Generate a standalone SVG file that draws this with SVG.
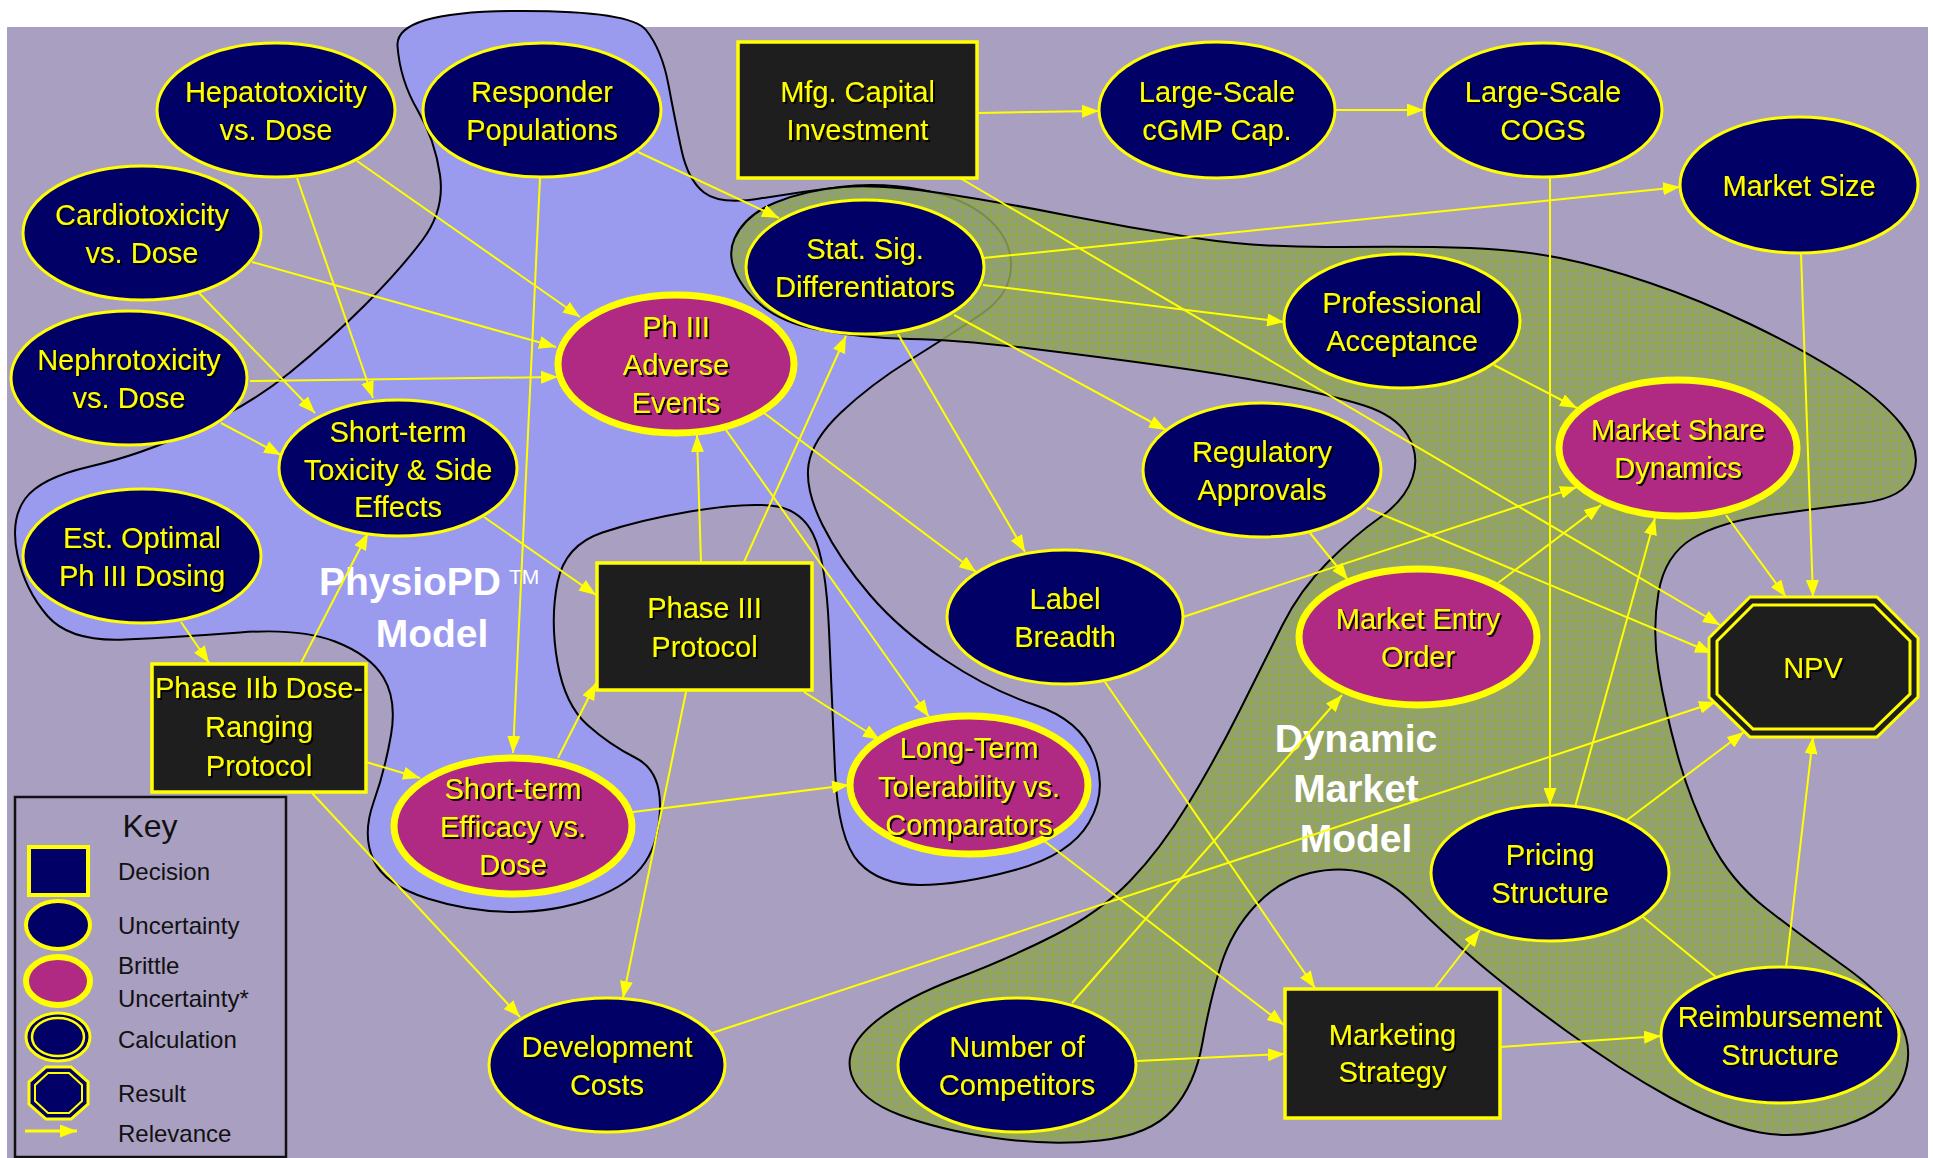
<svg xmlns="http://www.w3.org/2000/svg" width="1933" height="1158" viewBox="0 0 1933 1158">
<style>
.u{fill:#000066;stroke:#FFFF00;stroke-width:3}
.b{fill:#B02A84;stroke:#FFFF00;stroke-width:7}
.d{fill:#1E1E1E;stroke:#FFFF00;stroke-width:3.5}
.t{font-family:"Liberation Sans",Arial,sans-serif;font-size:29px;fill:#FFFF00;text-anchor:middle;filter:url(#sh)}
.c line{stroke:#FFFF00;stroke-width:2;marker-end:url(#ar)}
.k{font-family:"Liberation Sans",Arial,sans-serif;font-size:24px;fill:#111111}
.big{font-family:"Liberation Sans",Arial,sans-serif;font-size:39px;font-weight:bold;fill:#FFFFFF;text-anchor:middle}
</style>
<defs>
<filter id="sh" x="-10%" y="-20%" width="125%" height="150%">
<feDropShadow dx="2" dy="2" stdDeviation="0.6" flood-color="#000000" flood-opacity="0.9"/>
</filter>
<marker id="ar" markerUnits="userSpaceOnUse" markerWidth="17" markerHeight="13" refX="17" refY="6.5" orient="auto">
<path d="M0,0 L17,6.5 L0,13 Z" fill="#FFFF00"/>
</marker>
<pattern id="grid" patternUnits="userSpaceOnUse" width="9" height="9">
<rect width="9" height="9" fill="#8FA064"/>
<path d="M0,0.5 H9 M0.5,0 V9" stroke="#8DB020" stroke-width="1"/>
</pattern>
</defs>

<rect x="7" y="27" width="1921" height="1131" fill="#A99FC1"/>

<g id="physiopd-region">
<path d="M397.5,46 Q395,12 512.5,11 Q630,10 646,30 Q662,50 668.5,85 Q675,120 681.5,150 Q688,180 704,192.5 Q720,205 760,198.5 Q800,192 840,187 Q880,182 922.5,190 Q965,198 988.5,219 Q1012,240 1011,267.5 Q1010,295 980,315 Q950,335 910,360 Q870,385 841,412.5 Q812,440 808.5,465 Q805,490 822.5,525 Q840,560 870,595 Q900,630 945,660 Q990,690 1035,705 Q1080,720 1094,755 Q1108,790 1089,822.5 Q1070,855 1015,870 Q960,885 920,885 Q880,885 859,862.5 Q838,840 835,770 Q832,700 829,630 Q826,560 813,534 Q800,508 770,505.5 Q740,503 690,511.5 Q640,520 602.5,532.5 Q565,545 557.5,582.5 Q550,620 557.5,662.5 Q565,705 587.5,725 Q610,745 635,757.5 Q660,770 660,805 Q660,840 645,862.5 Q630,885 592.5,898.5 Q555,912 512.5,912 Q470,912 427.5,898.5 Q385,885 373.5,860 Q362,835 373.5,802.5 Q385,770 391,735 Q397,700 383.5,677.5 Q370,655 335,641.5 Q300,628 240,632.5 Q180,637 125,639.5 Q70,642 47.5,616 Q25,590 17.5,555 Q10,520 25,499 Q40,478 90,466.5 Q140,455 195,430 Q250,405 290,372.5 Q330,340 365,305 Q400,270 422.5,240 Q445,210 440,175 Q435,140 417.5,110 Q400,80 397.5,46 Z" fill="#9A9AEF" stroke="#000000" stroke-width="2"/>
<text class="big" x="410" y="595">PhysioPD</text>
<text x="509" y="584" font-family="Liberation Sans,Arial,sans-serif" font-size="21" fill="#FFFFFF">TM</text>
<text class="big" x="432" y="647">Model</text>
</g>

<g id="dynamic-market-region">
<path d="M747,291 Q724,262 734.5,238.5 Q745,215 775.5,202.5 Q806,190 843,187 Q880,184 940,193 Q1000,202 1065,215 Q1130,228 1195,238 Q1260,248 1340,247 Q1420,246 1470,248 Q1520,250 1560,258 Q1600,266 1650,283 Q1700,300 1750,324 Q1800,348 1840,373 Q1880,398 1901,424 Q1922,450 1913.5,474 Q1905,498 1862.5,503 Q1820,508 1770,515 Q1720,522 1692.5,538.5 Q1665,555 1658.5,592.5 Q1652,630 1658.5,670 Q1665,710 1677.5,755 Q1690,800 1710,840 Q1730,880 1765,907.5 Q1800,935 1842.5,965 Q1885,995 1900,1022.5 Q1915,1050 1902.5,1080 Q1890,1110 1845,1125 Q1800,1140 1760,1132.5 Q1720,1125 1670,1097.5 Q1620,1070 1565,1030 Q1510,990 1475,960 Q1440,930 1415,905 Q1390,880 1365,873 Q1340,866 1310,873 Q1280,880 1256,905 Q1232,930 1221,965 Q1210,1000 1202.5,1042.5 Q1195,1085 1172.5,1110 Q1150,1135 1100,1140.5 Q1050,1146 995,1138 Q940,1130 900,1115 Q860,1100 851.5,1075 Q843,1050 871.5,1025 Q900,1000 955,979 Q1010,958 1055,935 Q1100,912 1130,881 Q1160,850 1187.5,805 Q1215,760 1240,710 Q1265,660 1282.5,625 Q1300,590 1327.5,562.5 Q1355,535 1380,517.5 Q1405,500 1412.5,477.5 Q1420,455 1407.5,435 Q1395,415 1362.5,405 Q1330,395 1280,385 Q1230,375 1165,366 Q1100,357 1030,348.5 Q960,340 910,339 Q860,338 815,329 Q770,320 747,291 Z" fill="url(#grid)" fill-opacity="0.85" stroke="#000000" stroke-width="2"/>
<text class="big" x="1356" y="752">Dynamic</text>
<text class="big" x="1356" y="802">Market</text>
<text class="big" x="1356" y="852">Model</text>
</g>

<g id="connectors" class="c">
<line x1="357" y1="161" x2="580" y2="317"/>
<line x1="297" y1="178" x2="373" y2="398"/>
<line x1="540" y1="178" x2="513" y2="753"/>
<line x1="638" y1="152" x2="779" y2="218"/>
<line x1="252" y1="262" x2="556" y2="347"/>
<line x1="199" y1="293" x2="315" y2="413"/>
<line x1="250" y1="381" x2="558" y2="377"/>
<line x1="221" y1="423" x2="281" y2="455"/>
<line x1="181" y1="622" x2="209" y2="663"/>
<line x1="301" y1="663" x2="368" y2="533"/>
<line x1="366" y1="762" x2="420" y2="778"/>
<line x1="312" y1="793" x2="520" y2="1017"/>
<line x1="484" y1="517" x2="596" y2="595"/>
<line x1="558" y1="758" x2="596" y2="683"/>
<line x1="633" y1="812" x2="849" y2="785"/>
<line x1="701" y1="563" x2="697" y2="435"/>
<line x1="744" y1="562" x2="846" y2="336"/>
<line x1="804" y1="692" x2="880" y2="740"/>
<line x1="686" y1="692" x2="623" y2="998"/>
<line x1="764" y1="413" x2="976" y2="572"/>
<line x1="726" y1="430" x2="929" y2="717"/>
<line x1="898" y1="334" x2="1025" y2="552"/>
<line x1="954" y1="315" x2="1166" y2="430"/>
<line x1="983" y1="285" x2="1284" y2="322"/>
<line x1="983" y1="258" x2="1680" y2="187"/>
<line x1="977" y1="113" x2="1099" y2="111"/>
<line x1="1336" y1="110" x2="1424" y2="110"/>
<line x1="960" y1="178" x2="1720" y2="625"/>
<line x1="1550" y1="178" x2="1550" y2="805"/>
<line x1="1801" y1="253" x2="1813" y2="597"/>
<line x1="1494" y1="365" x2="1577" y2="408"/>
<line x1="1310" y1="533" x2="1348" y2="580"/>
<line x1="1367" y1="508" x2="1712" y2="653"/>
<line x1="1183" y1="617" x2="1577" y2="487"/>
<line x1="1105" y1="682" x2="1315" y2="988"/>
<line x1="1498" y1="583" x2="1601" y2="505"/>
<line x1="1726" y1="515" x2="1786" y2="597"/>
<line x1="1575" y1="807" x2="1655" y2="518"/>
<line x1="1627" y1="820" x2="1744" y2="732"/>
<line x1="1786" y1="968" x2="1813" y2="737"/>
<line x1="1643" y1="917" x2="1716" y2="977" style="marker-end:none"/>
<line x1="1435" y1="988" x2="1480" y2="930"/>
<line x1="1500" y1="1047" x2="1661" y2="1036"/>
<line x1="1137" y1="1061" x2="1285" y2="1054"/>
<line x1="1072" y1="1003" x2="1342" y2="695"/>
<line x1="712" y1="1033" x2="1716" y2="702"/>
<line x1="1043" y1="840" x2="1284" y2="1025"/>
</g>

<g id="hepatotoxicity"><ellipse class="u" cx="276" cy="110" rx="119" ry="67"/><text class="t" x="276" y="102">Hepatotoxicity</text><text class="t" x="276" y="140">vs. Dose</text></g>
<g id="responder"><ellipse class="u" cx="542" cy="110" rx="119" ry="67"/><text class="t" x="542" y="102">Responder</text><text class="t" x="542" y="140">Populations</text></g>
<g id="cardiotoxicity"><ellipse class="u" cx="142" cy="233" rx="119" ry="67"/><text class="t" x="142" y="225">Cardiotoxicity</text><text class="t" x="142" y="263">vs. Dose</text></g>
<g id="nephrotoxicity"><ellipse class="u" cx="129" cy="378" rx="118" ry="67"/><text class="t" x="129" y="370">Nephrotoxicity</text><text class="t" x="129" y="408">vs. Dose</text></g>
<g id="est-optimal"><ellipse class="u" cx="142" cy="556" rx="119" ry="67"/><text class="t" x="142" y="548">Est. Optimal</text><text class="t" x="142" y="586">Ph III Dosing</text></g>
<g id="short-term-toxicity"><ellipse class="u" cx="398" cy="468" rx="119" ry="68"/><text class="t" x="398" y="442">Short-term</text><text class="t" x="398" y="480">Toxicity &amp; Side</text><text class="t" x="398" y="517">Effects</text></g>
<g id="ph3-adverse"><ellipse class="b" cx="676" cy="364" rx="118" ry="69"/><text class="t" x="676" y="337">Ph III</text><text class="t" x="676" y="375">Adverse</text><text class="t" x="676" y="413">Events</text></g>
<g id="phase2b"><rect class="d" x="152" y="664" width="214" height="128"/><text class="t" x="259" y="698">Phase IIb Dose-</text><text class="t" x="259" y="737">Ranging</text><text class="t" x="259" y="776">Protocol</text></g>
<g id="short-term-efficacy"><ellipse class="b" cx="513" cy="826" rx="119" ry="68"/><text class="t" x="513" y="799">Short-term</text><text class="t" x="513" y="837">Efficacy vs.</text><text class="t" x="513" y="875">Dose</text></g>
<g id="phase3-protocol"><rect class="d" x="597" y="563" width="215" height="127"/><text class="t" x="704.5" y="618">Phase III</text><text class="t" x="704.5" y="657">Protocol</text></g>
<g id="long-term"><ellipse class="b" cx="969" cy="785" rx="119" ry="69"/><text class="t" x="969" y="758">Long-Term</text><text class="t" x="969" y="797">Tolerability vs.</text><text class="t" x="969" y="835">Comparators</text></g>
<g id="mfg-capital"><rect class="d" x="738" y="42" width="239" height="136"/><text class="t" x="857.5" y="102">Mfg. Capital</text><text class="t" x="857.5" y="140">Investment</text></g>
<g id="stat-sig"><ellipse class="u" cx="865" cy="267" rx="119" ry="67"/><text class="t" x="865" y="259">Stat. Sig.</text><text class="t" x="865" y="297">Differentiators</text></g>
<g id="cgmp"><ellipse class="u" cx="1217" cy="110" rx="118" ry="68"/><text class="t" x="1217" y="102">Large-Scale</text><text class="t" x="1217" y="140">cGMP Cap.</text></g>
<g id="cogs"><ellipse class="u" cx="1543" cy="110" rx="119" ry="67"/><text class="t" x="1543" y="102">Large-Scale</text><text class="t" x="1543" y="140">COGS</text></g>
<g id="market-size"><ellipse class="u" cx="1799" cy="185" rx="119" ry="68"/><text class="t" x="1799" y="196">Market Size</text></g>
<g id="professional"><ellipse class="u" cx="1402" cy="321" rx="118" ry="67"/><text class="t" x="1402" y="313">Professional</text><text class="t" x="1402" y="351">Acceptance</text></g>
<g id="regulatory"><ellipse class="u" cx="1262" cy="470" rx="119" ry="67"/><text class="t" x="1262" y="462">Regulatory</text><text class="t" x="1262" y="500">Approvals</text></g>
<g id="market-share"><ellipse class="b" cx="1678" cy="448" rx="119" ry="68"/><text class="t" x="1678" y="440">Market Share</text><text class="t" x="1678" y="478">Dynamics</text></g>
<g id="label-breadth"><ellipse class="u" cx="1065" cy="617" rx="118" ry="67"/><text class="t" x="1065" y="609">Label</text><text class="t" x="1065" y="647">Breadth</text></g>
<g id="market-entry"><ellipse class="b" cx="1418" cy="637" rx="119" ry="68"/><text class="t" x="1418" y="629">Market Entry</text><text class="t" x="1418" y="667">Order</text></g>
<g id="npv"><polygon points="1750,597 1877,597 1918,638 1918,697 1877,737 1750,737 1709,697 1709,638" fill="#1E1E1E" stroke="#FFFF00" stroke-width="3"/><polygon points="1753,605 1874,605 1910,641 1910,694 1874,729 1753,729 1717,694 1717,641" fill="none" stroke="#FFFF00" stroke-width="3"/><text class="t" x="1813" y="678">NPV</text></g>
<g id="pricing"><ellipse class="u" cx="1550" cy="873" rx="119" ry="68"/><text class="t" x="1550" y="865">Pricing</text><text class="t" x="1550" y="903">Structure</text></g>
<g id="reimbursement"><ellipse class="u" cx="1780" cy="1035" rx="119" ry="68"/><text class="t" x="1780" y="1027">Reimbursement</text><text class="t" x="1780" y="1065">Structure</text></g>
<g id="marketing"><rect class="d" x="1285" y="989" width="215" height="129"/><text class="t" x="1392.5" y="1045">Marketing</text><text class="t" x="1392.5" y="1082">Strategy</text></g>
<g id="competitors"><ellipse class="u" cx="1017" cy="1065" rx="119" ry="67"/><text class="t" x="1017" y="1057">Number of</text><text class="t" x="1017" y="1095">Competitors</text></g>
<g id="development"><ellipse class="u" cx="607" cy="1065" rx="118" ry="67"/><text class="t" x="607" y="1057">Development</text><text class="t" x="607" y="1095">Costs</text></g>

<g id="key">
<rect x="15" y="797" width="271" height="360" fill="none" stroke="#111111" stroke-width="2.5"/>
<text x="150" y="837" font-family="Liberation Sans,Arial,sans-serif" font-size="32" fill="#111111" text-anchor="middle">Key</text>
<rect x="29" y="847" width="59" height="48" fill="#000066" stroke="#FFFF00" stroke-width="4"/>
<text class="k" x="118" y="880">Decision</text>
<ellipse cx="58" cy="925" rx="32" ry="24" fill="#000066" stroke="#FFFF00" stroke-width="4"/>
<text class="k" x="118" y="934">Uncertainty</text>
<ellipse cx="58" cy="981" rx="32" ry="24" fill="#B02A84" stroke="#FFFF00" stroke-width="6"/>
<text class="k" x="118" y="974">Brittle</text>
<text class="k" x="118" y="1007">Uncertainty*</text>
<ellipse cx="58" cy="1037" rx="32" ry="24" fill="#000066" stroke="#FFFF00" stroke-width="3"/>
<ellipse cx="58" cy="1037" rx="26" ry="19" fill="none" stroke="#FFFF00" stroke-width="2.5"/>
<text class="k" x="118" y="1048">Calculation</text>
<polygon points="46,1067 71,1067 88,1082 88,1104 71,1119 46,1119 29,1104 29,1082" fill="#000066" stroke="#FFFF00" stroke-width="3"/>
<polygon points="48,1073 69,1073 82,1085 82,1101 69,1113 48,1113 35,1101 35,1085" fill="none" stroke="#FFFF00" stroke-width="2"/>
<text class="k" x="118" y="1102">Result</text>
<line x1="25" y1="1131" x2="77" y2="1131" stroke="#FFFF00" stroke-width="3" marker-end="url(#ar)"/>
<text class="k" x="118" y="1142">Relevance</text>
</g>
</svg>
